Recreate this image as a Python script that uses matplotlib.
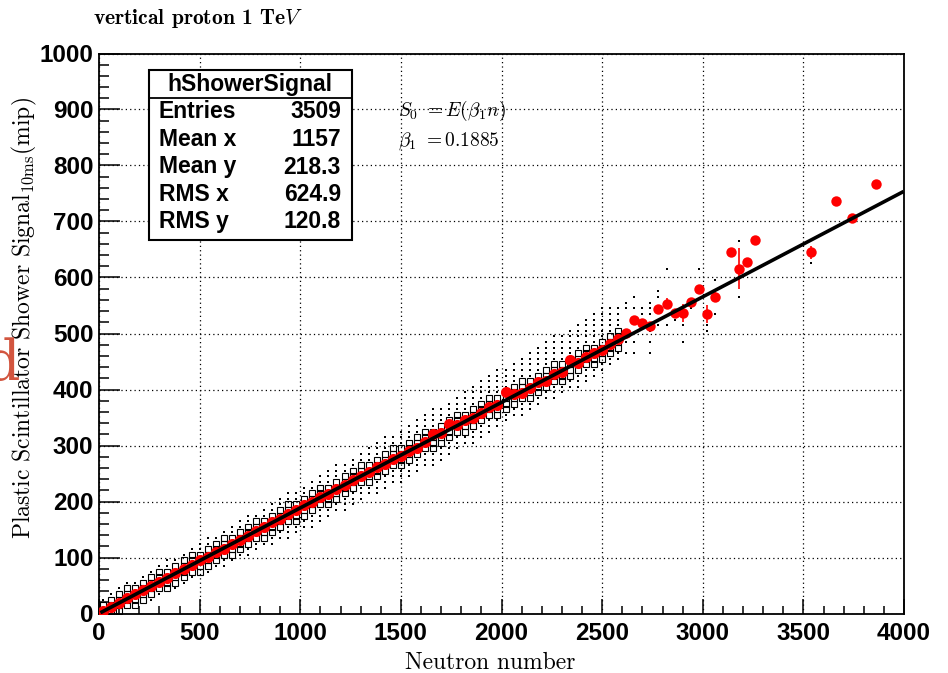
import numpy as np
import matplotlib
matplotlib.use('Agg')
import matplotlib.pyplot as plt
from matplotlib.patches import Rectangle
from matplotlib.lines import Line2D

plt.rcParams['mathtext.fontset'] = 'cm'

# fit result
beta1 = 0.1885

# 2D histogram (hShowerSignal), x bins of 40, y bins of 10
# per x column: lowest and highest occupied y bin (lower edges)
col_x = np.arange(20, 2600, 40)
col_lo = [0, 0, 0, 10, 10, 20, 20, 30, 40, 40, 50, 60, 70, 70, 80, 80, 90, 100, 100, 110,
          120, 120, 130, 130, 140, 150, 150, 160, 170, 180, 180, 190, 200, 210, 210, 220, 230, 230, 240, 250,
          260, 260, 270, 280, 290, 300, 300, 310, 320, 330, 340, 350, 350, 360, 370, 380, 380, 390, 400, 400,
          410, 420, 430, 440, 450]
col_hi = [20, 30, 40, 50, 50, 60, 70, 80, 90, 90, 100, 110, 120, 130, 130, 140, 150, 160, 170, 170,
          180, 190, 200, 210, 210, 220, 230, 240, 250, 260, 260, 270, 280, 290, 300, 310, 310, 320, 330, 340,
          350, 360, 360, 370, 380, 390, 400, 410, 420, 430, 430, 440, 450, 460, 470, 480, 490, 490, 500, 510,
          520, 530, 540, 540, 540]

# isolated filled bins at large neutron number
stray_x = [3180, 3180, 3060, 3060, 3020, 3020, 2900, 2980, 2820, 2780, 2780, 2780, 2820, 2660, 2660,
           2700, 2700, 2740, 2740, 2740, 2740, 2740, 2740, 2660, 2660, 2620, 2620, 3540, 2620, 2620,
           2860, 2940, 2900]
stray_y = [665, 565, 595, 535, 515, 505, 485, 615, 615, 575, 565, 515, 515, 565, 545,
           545, 535, 555, 545, 535, 505, 485, 465, 485, 465, 485, 465, 625, 545, 555,
           525, 545, 515]

# profile (red) along the band
prof_x = np.arange(20, 2600, 40)
prof_y = [4, 12, 19, 27, 34, 42, 49, 57, 64, 72, 79, 87, 95, 101, 110, 116, 125, 132, 139, 148,
          154, 163, 169, 178, 184, 193, 199, 208, 214, 223, 229, 238, 246, 252, 261, 267, 276, 282, 291, 296,
          307, 320, 322, 338, 337, 345, 350, 358, 368, 372, 395, 392, 394, 402, 413, 416, 428, 432, 453, 447,
          458, 466, 471, 482, 490]

# profile points beyond the band
out_x = [2620, 2660, 2700, 2740, 2780, 2820, 2860, 2900, 2940, 2980, 3020, 3060, 3140, 3180, 3220,
         3260, 3540, 3660, 3740, 3860]
out_y = [501, 524, 518, 513, 543, 553, 537, 537, 556, 580, 535, 566, 645, 616, 627,
         667, 645, 737, 706, 767]
out_err = [4, 8, 5, 5, 6, 10, 6, 16, 6, 5, 16, 8, 4, 36, 5, 4, 12, 4, 4, 4]

W, H = 948, 673
fig = plt.figure(figsize=(W / 100, H / 100), dpi=100)
ax = fig.add_axes([99 / W, 1 - 613.5 / H, 805 / W, 560 / H])

def fx(x):
    return x / W

def fy(y):
    return 1 - y / H

# build cells of the 2D histogram
small_x, small_y, big_x, big_y = [], [], [], []
for c, lo, hi in zip(col_x, col_lo, col_hi):
    for e in range(lo, hi + 1, 10):
        yc = e + 5
        if abs(yc - beta1 * c) <= 20:
            big_x.append(c)
            big_y.append(yc)
        else:
            small_x.append(c)
            small_y.append(yc)
small_x += stray_x
small_y += stray_y

ax.plot(small_x, small_y, 's', ms=2.15, color='k', mew=0, zorder=2)
ax.plot(big_x, big_y, 's', ms=4.0, mfc='none', mec='k', mew=0.8, zorder=2)

# profile
ax.plot(prof_x, prof_y, 'o', ms=8, color='red', mew=0, zorder=3)
ax.errorbar(out_x, out_y, yerr=out_err, fmt='o', ms=7.5, color='red', mew=0,
            elinewidth=1.2, capsize=0, zorder=3)

# fit
fit_x = np.array([15, 3990])
ax.plot(fit_x, beta1 * fit_x, '-', color='k', lw=2.6, zorder=4)

ax.set_xlim(0, 4000)
ax.set_ylim(0, 1000)
ax.set_xticks(np.arange(0, 4001, 500))
ax.set_xticks(np.arange(0, 4001, 100), minor=True)
ax.set_yticks(np.arange(0, 1001, 100))
ax.set_yticks(np.arange(0, 1001, 20), minor=True)
ax.grid(True, which='major', ls=(0, (1, 2.5)), color='k', lw=0.9)
ax.tick_params(axis='x', which='major', direction='in', length=11, width=1.1, pad=6)
ax.tick_params(axis='x', which='minor', direction='in', length=5.8, width=1.1)
ax.tick_params(axis='y', which='major', direction='in', length=15, width=1.1, pad=4)
ax.tick_params(axis='y', which='minor', direction='in', length=7.2, width=1.1)
for lab in ax.get_xticklabels() + ax.get_yticklabels():
    lab.set_fontfamily('Liberation Sans')
    lab.set_fontweight('bold')
    lab.set_fontsize(17.5)
for s in ax.spines.values():
    s.set_linewidth(1.3)

# titles / axis labels
fig.text(fx(93), fy(18), r'vertical proton 1 Te$V$', family='cmb10', fontsize=15.5,
         ha='left', va='center')
fig.text(fx(490), fy(663), 'Neutron number', family='cmr10', fontsize=17,
         ha='center', va='center')
fig.text(fx(24), fy(318), r'Plastic Scintillator Shower Signal$_{\rm 10ms}$(mip)',
         family='cmr10', fontsize=17, rotation=90, ha='center', va='center')
fig.text(fx(20), fy(380), 'd', family='DejaVu Serif', fontsize=40, color='#d2553f',
         ha='right', va='baseline')

# fit text
fig.text(fx(398), fy(111), r'$S_0\ =E(\beta_1 n)$', fontsize=14, ha='left', va='center')
fig.text(fx(398), fy(141), r'$\beta_1\ =$0.1885', family='cmr10', fontsize=14,
         ha='left', va='center')

# stats box
fig.patches.append(Rectangle((fx(149), fy(240)), (352 - 149) / W, (240 - 70) / H,
                             transform=fig.transFigure, facecolor='white',
                             edgecolor='k', lw=1.5, zorder=10))
fig.lines.append(Line2D([fx(149), fx(352)], [fy(97.5), fy(97.5)], transform=fig.transFigure,
                        color='k', lw=1.3, zorder=11))
fig.text(fx(250), fy(84), 'hShowerSignal', family='Liberation Sans', fontweight='bold',
         fontsize=16.5, ha='center', va='center', zorder=12)
stat_names = ['Entries', 'Mean x', 'Mean y', 'RMS x', 'RMS y']
stat_vals = ['3509', '1157', '218.3', '624.9', '120.8']
for i, (n, v) in enumerate(zip(stat_names, stat_vals)):
    yy = 112 + i * 27.5
    fig.text(fx(159), fy(yy), n, family='Liberation Sans', fontweight='bold', fontsize=16.5,
             ha='left', va='center', zorder=12)
    fig.text(fx(341), fy(yy), v, family='Liberation Sans', fontweight='bold', fontsize=16.5,
             ha='right', va='center', zorder=12)

fig.savefig('out.png', dpi=100)
